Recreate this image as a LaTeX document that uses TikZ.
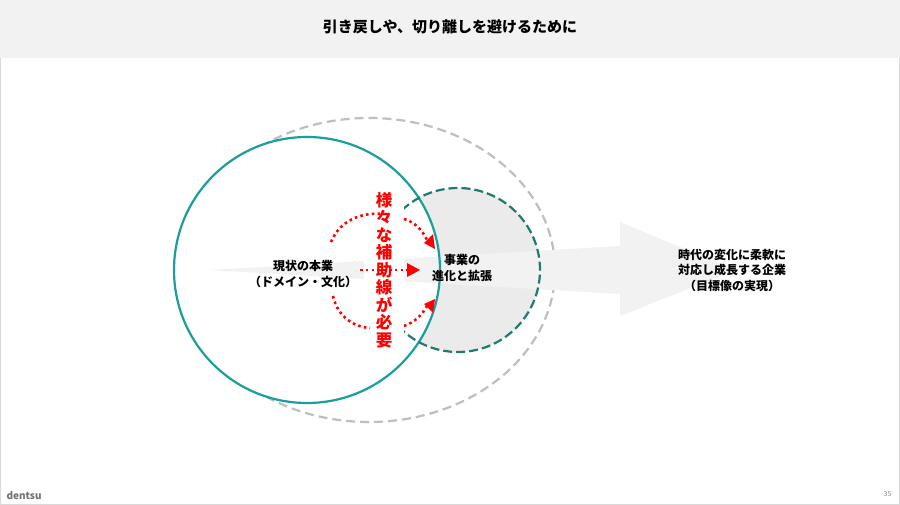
\documentclass[tikz,border=0pt]{standalone}
\usepackage{fontspec}
\setmainfont{Noto Sans CJK JP}
\definecolor{tealA}{HTML}{1A9E9E}
\definecolor{tealB}{HTML}{1F7A72}
\begin{document}
\begin{tikzpicture}[x=1pt,y=-1pt,
  txt/.style={font=\bfseries\fontsize{12}{15.5}\selectfont, align=center, inner sep=1pt},
  reddot/.style={red, line width=2.6pt, dash pattern=on 2.6pt off 3.2pt},
  redtip/.style={red, fill=red}]
\useasboundingbox (0,0) rectangle (900,505);
\fill[white] (0,0) rectangle (900,505);
\draw[gray!30] (0.5,0.5) rectangle (899.5,504.5);
\fill[black!5] (0,0) rectangle (900,58);
\node (title) at (450,27) {\fontsize{15}{18}\selectfont\bfseries 引き戻しや、切り離しを避けるために};
% gray dashed ellipse
\draw[black!25, line width=2.2pt, dash pattern=on 9pt off 5pt] (369,270) ellipse [x radius=186, y radius=152];
% dashed circle fill
\fill[black!8] (458,270) circle (82);
% big circle white
\fill[white] (307,270) circle (133);
% big arrow
\fill[black!5] (210,270) -- (620,246) -- (620,222) -- (735,270) -- (620,316) -- (620,294) -- cycle;
\draw[tealA, line width=2.2pt] (307,270) circle (133);
\draw[tealB, line width=2.2pt, dash pattern=on 9pt off 4pt] (458,270) ++(-133:82) arc[start angle=-133, end angle=133, radius=82];
% red text
\node[fill=white, inner sep=2pt, minimum width=40pt, text=red, font=\bfseries\fontsize{16.5}{17.5}\selectfont, align=center] (need) at (384,270) {様\\々\\な\\補\\助\\線\\が\\必\\要};
% red arrows
\coordinate (a1s) at (331,242); \coordinate (a1e) at (383,214);
\draw[reddot] (a1s) .. controls (340,220) and (362,212) .. (a1e);
\coordinate (a2s) at (333,296); \coordinate (a2e) at (370,328);
\draw[reddot] (a2s) .. controls (338,318) and (355,327) .. (a2e);
\coordinate (b1s) at (404,219); \coordinate (b1e) at (427,240);
\draw[reddot] (b1s) .. controls (415,222) and (422,230) .. (b1e);
\fill[redtip] (435,249) -- (424,243) -- (433,234) -- cycle;
\coordinate (b2s) at (404,326); \coordinate (b2e) at (427,306);
\draw[reddot] (b2s) .. controls (415,322) and (422,315) .. (b2e);
\fill[redtip] (435,299) -- (424,304) -- (433,313) -- cycle;
\coordinate (c1s) at (360,270); \coordinate (c1e) at (407,270);
\draw[reddot] (c1s) -- (c1e);
\fill[redtip] (420,270) -- (407,263) -- (407,277) -- cycle;
% texts
\node[txt] (cur) at (303,274) {現状の本業\\（ドメイン・文化）};
\node[txt] (evo) at (462,268) {事業の\\進化と拡張};
\node[txt] (goal) at (732,270) {時代の変化に柔軟に\\対応し成長する企業\\（目標像の実現）};
\node[anchor=west, text=black!55, font=\bfseries\fontsize{10}{12}\selectfont] (brand) at (3,496) {dentsu};
\node[anchor=east, text=black!45, font=\fontsize{7}{9}\selectfont] (page) at (895,494) {35};
\end{tikzpicture}
\end{document}
